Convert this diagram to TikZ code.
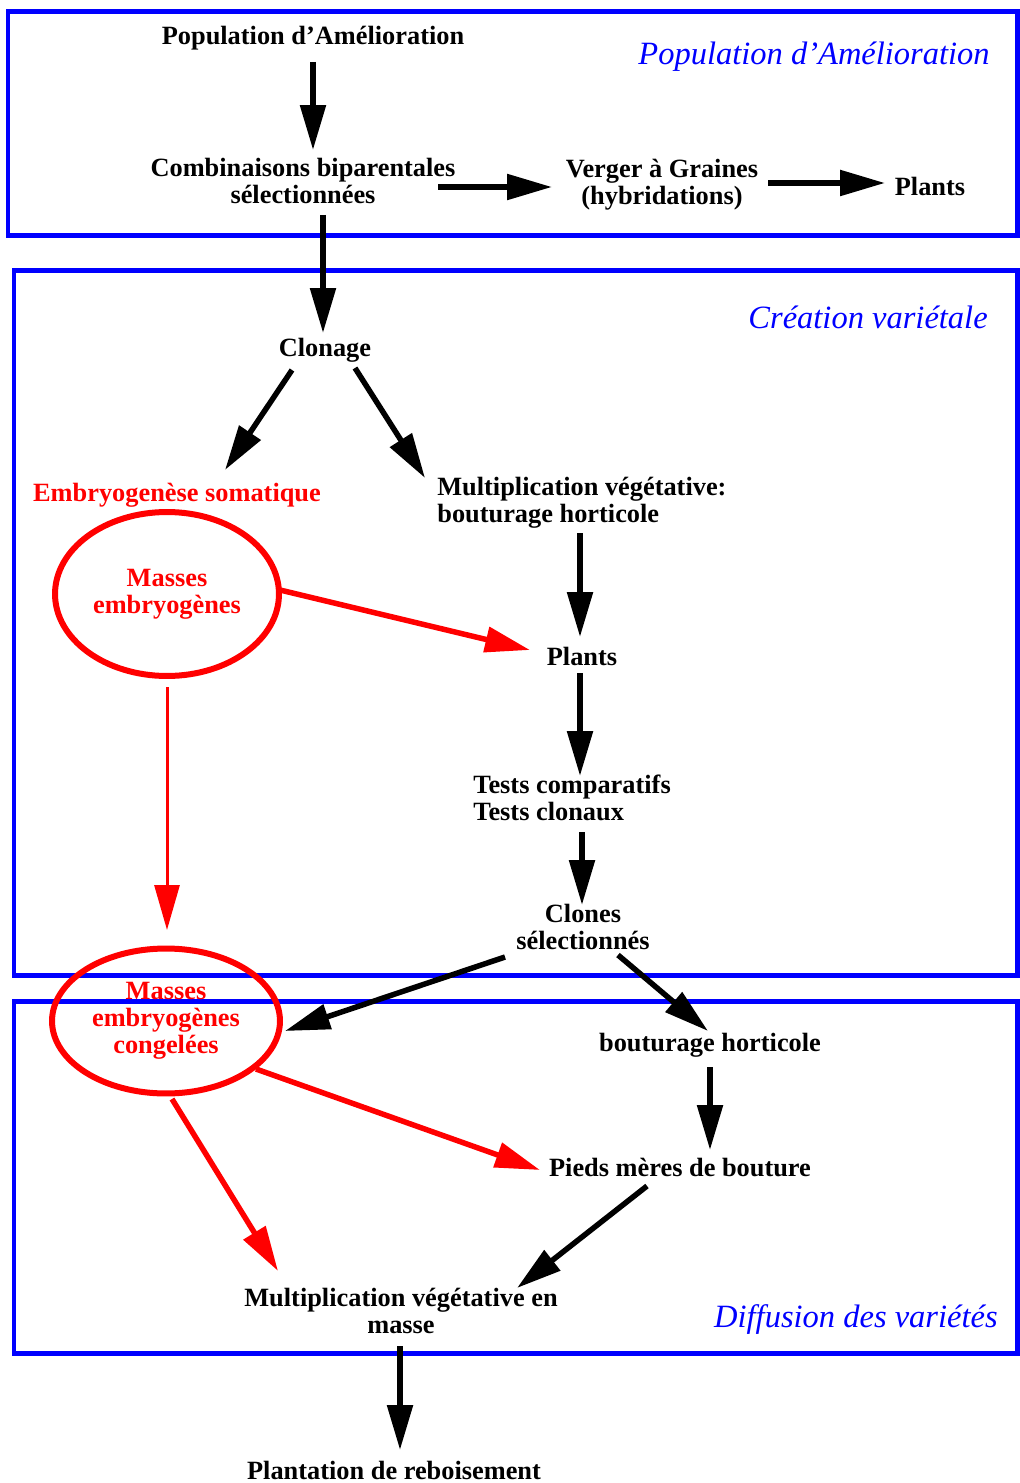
\documentclass[tikz,border=0pt]{standalone}
\usepackage{fontspec}
\setmainfont{Liberation Serif}
\usetikzlibrary{arrows.meta, shapes.geometric}

\begin{document}
\begin{tikzpicture}[x=0.02cm, y=-0.02cm,
    txt/.style={font=\fontsize{15}{15.5}\selectfont\bfseries, align=center, inner sep=0pt},
    zone/.style={draw=blue, line width=0.1cm},
    zonename/.style={font=\fontsize{18.5}{20}\selectfont\itshape, text=blue, anchor=east, inner sep=0pt},
    masse/.style={ellipse, draw=red, line width=0.12cm, text=red, inner sep=0pt},
    arr/.style={-{Triangle[length=0.9cm, width=0.5cm]}, line width=0.11cm, color=black},
    redarr/.style={arr, color=red}]
  \useasboundingbox (0,0) rectangle (1019,1483);
  % zones
  \draw[zone] (8,12) rectangle (1017,236);
  \draw[zone] (14,271) rectangle (1017,975);
  \draw[zone] (14,1001) rectangle (1017,1353);
  \node[zonename] (zpop) at (990,57) {Population d'Amélioration};
  \node[zonename] (zcrea) at (988,317) {Création variétale};
  \node[zonename] (zdiff) at (998,1320) {Diffusion des variétés};

  % amelioration
  \node[txt] (pop) at (313,38) {Population d'Amélioration};
  \node[txt] (comb) at (303,181) {Combinaisons biparentales\\sélectionnées};
  \node[txt] (verger) at (662,185) {Verger à Graines\\(hybridations)};
  \node[txt] (plants1) at (930,186) {Plants};

  % creation
  \node[txt] (clon) at (325,350) {Clonage};
  \node[txt, text=red] (embryo) at (177,495) {Embryogenèse somatique};
  \node[txt, anchor=west, align=left] (multi) at (437,503) {Multiplication végétative:\\bouturage horticole};
  \node[masse, minimum width=4.48cm, minimum height=3.28cm, txt, text=red] (masses) at (167,594) {Masses\\embryogènes};
  \node[txt] (plants2) at (582,656) {Plants};
  \node[txt, anchor=west, align=left] (tests) at (473,798) {Tests comparatifs\\Tests clonaux};
  \node[txt] (clones) at (583,927) {Clones\\sélectionnés};

  % diffusion
  \node[masse, minimum width=4.56cm, minimum height=2.9cm, txt, text=red] (congel) at (166,1021) {Masses\\embryogènes\\congelées};
  \node[txt] (bout) at (710,1045) {bouturage horticole};
  \node[txt] (pieds) at (680,1167) {Pieds mères de bouture};
  \node[txt] (masse) at (401,1311) {Multiplication végétative en\\masse};
  \node[txt] (reboise) at (394,1470) {Plantation de reboisement};

  \path
    ([shift={(0,24)}]pop.center) edge[arr] ([shift={(10,-31)}]comb.center)
    ([shift={(135,6)}]comb.center) edge[arr] ([shift={(-110,2)}]verger.center)
    ([shift={(106,-2)}]verger.center) edge[arr] ([shift={(-45,-3)}]plants1.center)
    ([shift={(20,34)}]comb.center) edge[arr] ([shift={(-2,-17)}]clon.center)
    ([shift={(-33,20)}]clon.center) edge[arr] ([shift={(48,-25)}]embryo.center)
    ([shift={(30,18)}]clon.center) edge[arr] ([shift={(-12,-25)}]multi.west)
    ([shift={(143,30)}]multi.west) edge[arr] ([shift={(-2,-19)}]plants2.center)
    ([shift={(-2,17)}]plants2.center) edge[arr] ([shift={(107,-22)}]tests.west)
    ([shift={(109,34)}]tests.west) edge[arr] ([shift={(-1,-22)}]clones.center)
    ([shift={(-78,30)}]clones.center) edge[arr] ([shift={(119,10)}]congel.center)
    ([shift={(35,28)}]clones.center) edge[arr] ([shift={(-2,-14)}]bout.center)
    ([shift={(0,22)}]bout.center) edge[arr] ([shift={(30,-17)}]pieds.center)
    ([shift={(-33,19)}]pieds.center) edge[arr] ([shift={(116,-23)}]masse.center)
    ([shift={(-1,35)}]masse.center) edge[arr] ([shift={(6,-20)}]reboise.center);

  \path
    ([shift={(113,-4)}]masses.center) edge[redarr] ([shift={(-52,-6)}]plants2.center)
    ([shift={(90,48)}]congel.center) edge[redarr] ([shift={(-140,3)}]pieds.center)
    ([shift={(6,78)}]congel.center) edge[redarr] ([shift={(-123,-40)}]masse.center)
    ([shift={(0,93)}]masses.center) edge[redarr, line width=0.06cm] ([shift={(1,-91)}]congel.center);
\end{tikzpicture}
\end{document}
